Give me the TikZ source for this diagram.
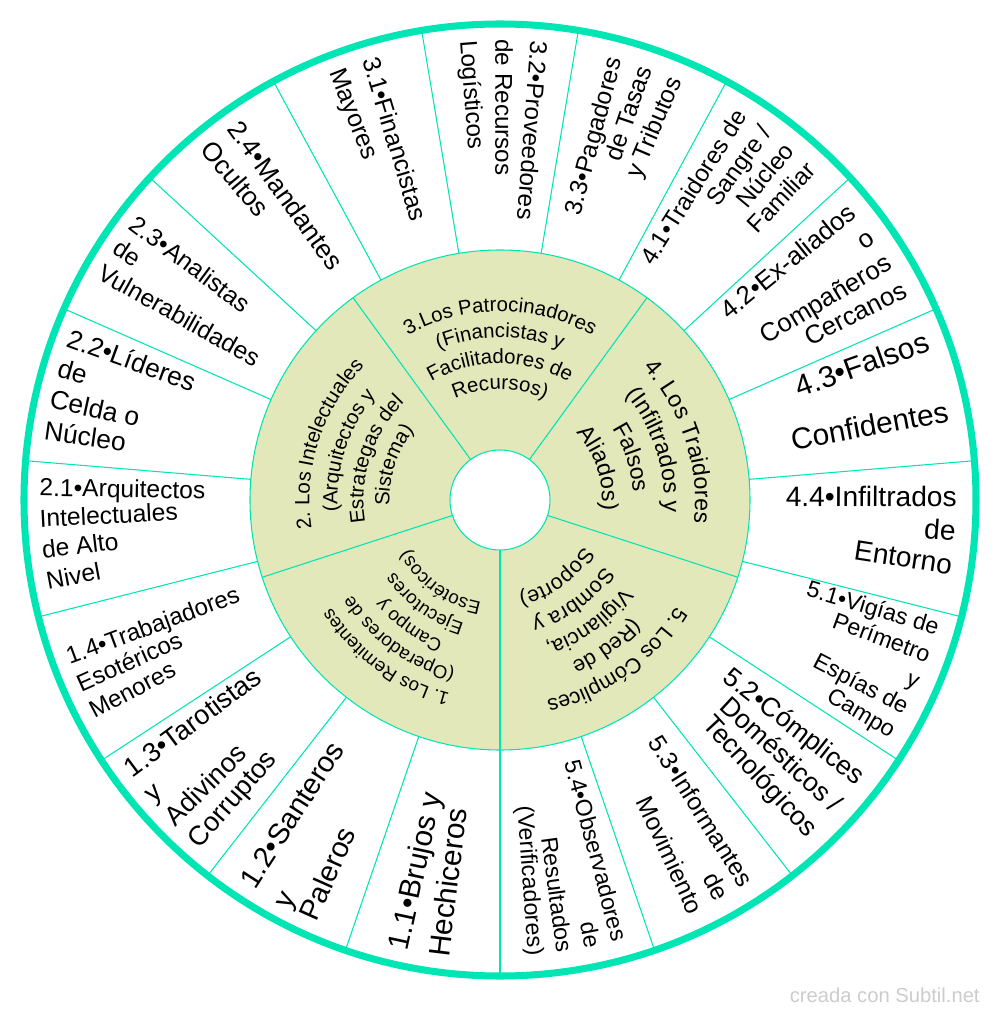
\documentclass[tikz,border=0pt]{standalone}
\usepackage{fontspec}
\setmainfont{Liberation Sans}
\usetikzlibrary{decorations.text}
\definecolor{mint}{RGB}{0,229,180}
\definecolor{pale}{RGB}{226,232,186}
\newcommand{\fsz}[1]{\fontsize{#1}{#1}\selectfont}

\begin{document}
\begin{tikzpicture}[rim/.style={draw=mint, line width=0.6pt},
  lft/.style={anchor=mid west, inner sep=0pt, rotate=#1-180, at={(#1:9.22)}},
  rgt/.style={anchor=mid east, inner sep=0pt, rotate=#1, at={(#1:9.14)}},
  arctext/.style={decorate, decoration={text along path, text align=center, text={#1}}}]
	\useasboundingbox (-10,-10.32) rectangle (10,10);

	% rings
	\fill[pale] (0,0) circle (5);
	\fill[white] (0,0) circle (1);
	\foreach \a in {270,342,54,126,198} \draw[rim] (\a:1) -- (\a:5);
	\foreach \k in {0,...,18} \draw[rim] ({270-\k*360/19}:5) -- ({270-\k*360/19}:9.52);
	\draw[rim] (0,0) circle (1);
	\draw[rim] (0,0) circle (5);
	\draw[mint, line width=4pt] (0,0) circle (9.52);

	% inner sectors
	\path[arctext={|\fsz{10.6}|1. Los Remitentes}] (279:4.00) arc[start angle=279, end angle=189, radius=4.00];
	\path[arctext={|\fsz{10.6}|(Operadores de}] (279:3.52) arc[start angle=279, end angle=189, radius=3.52];
	\path[arctext={|\fsz{10.6}|Campo y}] (279:3.04) arc[start angle=279, end angle=189, radius=3.04];
	\path[arctext={|\fsz{10.6}|Ejecutores}] (279:2.56) arc[start angle=279, end angle=189, radius=2.56];
	\path[arctext={|\fsz{10.6}|Esotéricos)}] (279:2.08) arc[start angle=279, end angle=189, radius=2.08];

	\path[arctext={|\fsz{11.7}|2. Los Intelectuales}] (207:3.81) arc[start angle=207, end angle=117, radius=3.81];
	\path[arctext={|\fsz{11.7}|(Arquitectos y}] (207:3.25) arc[start angle=207, end angle=117, radius=3.25];
	\path[arctext={|\fsz{11.7}|Estrategas del}] (207:2.73) arc[start angle=207, end angle=117, radius=2.73];
	\path[arctext={|\fsz{11.7}|Sistema)}] (207:2.21) arc[start angle=207, end angle=117, radius=2.21];

	\path[arctext={|\fsz{11.6}|3.Los Patrocinadores}] (135:3.77) arc[start angle=135, end angle=45, radius=3.77];
	\path[arctext={|\fsz{11.6}|(Financistas y}] (135:3.25) arc[start angle=135, end angle=45, radius=3.25];
	\path[arctext={|\fsz{11.6}|Facilitadores de}] (135:2.73) arc[start angle=135, end angle=45, radius=2.73];
	\path[arctext={|\fsz{11.6}|Recursos)}] (135:2.21) arc[start angle=135, end angle=45, radius=2.21];

	\path[arctext={|\fsz{13.2}|4. Los Traidores}] (63:3.90) arc[start angle=63, end angle=-27, radius=3.90];
	\path[arctext={|\fsz{13.2}|(Infiltrados y}] (63:3.28) arc[start angle=63, end angle=-27, radius=3.28];
	\path[arctext={|\fsz{13.2}|Falsos}] (63:2.66) arc[start angle=63, end angle=-27, radius=2.66];
	\path[arctext={|\fsz{13.2}|Aliados)}] (63:2.04) arc[start angle=63, end angle=-27, radius=2.04];

	\path[arctext={|\fsz{12.2}|5. Los Cómplices}] (351:4.11) arc[start angle=351, end angle=261, radius=4.11];
	\path[arctext={|\fsz{12.2}|(Red de}] (351:3.55) arc[start angle=351, end angle=261, radius=3.55];
	\path[arctext={|\fsz{12.2}|Vigilancia,}] (351:3.01) arc[start angle=351, end angle=261, radius=3.01];
	\path[arctext={|\fsz{12.2}|Sombra y}] (351:2.47) arc[start angle=351, end angle=261, radius=2.47];
	\path[arctext={|\fsz{12.2}|Soporte)}] (351:1.91) arc[start angle=351, end angle=261, radius=1.91];

	% outer labels, group 1
	\node[lft=257.9, font=\fsz{17}] (b11a) {1.1•Brujos y};
	\node[lft=263.1, font=\fsz{17}] (b11b) {Hechiceros};
	\node[lft=237.3, font=\fsz{16.5}] (b12a) {1.2•Santeros};
	\node[lft=242.3, font=\fsz{16.5}] (b12b) {y};
	\node[lft=246.0, font=\fsz{16.5}] (b12c) {Paleros};
	\node[lft=216.6, font=\fsz{15.4}] (b13a) {1.3•Tarotistas};
	\node[lft=220.6, font=\fsz{15.4}] (b13b) {y};
	\node[lft=224.7, font=\fsz{15.4}] (b13c) {Adivinos};
	\node[lft=228.7, font=\fsz{15.4}] (b13d) {Corruptos};
	\node[lft=200.4, font=\fsz{13.7}] (b14a) {1.4•Trabajadores};
	\node[lft=204.1, font=\fsz{13.7}] (b14b) {Esotéricos};
	\node[lft=207.8, font=\fsz{13.7}] (b14c) {Menores};

	% group 2
	\node[lft=178.9, font=\fsz{14}] (b21a) {2.1•Arquitectos};
	\node[lft=182.8, font=\fsz{14}] (b21b) {Intelectuales};
	\node[lft=186.7, font=\fsz{14}] (b21c) {de Alto};
	\node[lft=190.6, font=\fsz{14}] (b21d) {Nivel};
	\node[lft=159.9, font=\fsz{15}] (b22a) {2.2•Líderes};
	\node[lft=163.9, font=\fsz{15}] (b22b) {de};
	\node[lft=167.9, font=\fsz{15}] (b22c) {Celda o};
	\node[lft=171.9, font=\fsz{15}] (b22d) {Núcleo};
	\node[lft=143.3, font=\fsz{14}] (b23a) {2.3•Analistas};
	\node[lft=147.0, font=\fsz{14}] (b23b) {de};
	\node[lft=150.7, font=\fsz{14}] (b23c) {Vulnerabilidades};
	\node[lft=125.8, font=\fsz{15}] (b24a) {2.4•Mandantes};
	\node[lft=130.1, font=\fsz{15}] (b24b) {Ocultos};

	% group 3
	\node[lft=106.8, font=\fsz{14.2}] (b31a) {3.1•Financistas};
	\node[lft=111.2, font=\fsz{14.2}] (b31b) {Mayores};
	\node[lft=85.6, font=\fsz{13.8}] (b32a) {3.2•Proveedores};
	\node[lft=90.0, font=\fsz{13.8}] (b32b) {de Recursos};
	\node[lft=94.4, font=\fsz{13.8}] (b32c) {Logísticos};
	\node[rgt=75.1, font=\fsz{14}] (b33a) {3.3•Pagadores};
	\node[rgt=71.1, font=\fsz{14}] (b33b) {de Tasas};
	\node[rgt=67.1, font=\fsz{14}] (b33c) {y Tributos};

	% group 4
	\node[rgt=57.7, font=\fsz{13.8}] (b41a) {4.1•Traidores de};
	\node[rgt=54.0, font=\fsz{13.8}] (b41b) {Sangre /};
	\node[rgt=50.3, font=\fsz{13.8}] (b41c) {Núcleo};
	\node[rgt=46.6, font=\fsz{13.8}] (b41d) {Familiar};
	\node[rgt=39.0, font=\fsz{14.7}] (b42a) {4.2•Ex-aliados};
	\node[rgt=35.0, font=\fsz{14.7}] (b42b) {o};
	\node[rgt=31.1, font=\fsz{14.7}] (b42c) {Compañeros};
	\node[rgt=27.1, font=\fsz{14.7}] (b42d) {Cercanos};
	\node[rgt=19.7, font=\fsz{17}] (b43a) {4.3•Falsos};
	\node[rgt=10.5, font=\fsz{17}] (b43b) {Confidentes};
	\node[rgt=-0.3, font=\fsz{16}] (b44a) {4.4•Infiltrados};
	\node[rgt=-4.5, font=\fsz{16}] (b44b) {de};
	\node[rgt=-8.8, font=\fsz{16}] (b44c) {Entorno};

	% group 5
	\node[rgt=-16.6, font=\fsz{13.2}] (b51a) {5.1•Vigías de};
	\node[rgt=-20.3, font=\fsz{13.2}] (b51b) {Perímetro};
	\node[rgt=-23.9, font=\fsz{13.2}] (b51c) {y};
	\node[rgt=-27.4, font=\fsz{13.2}] (b51d) {Espías de};
	\node[rgt=-30.9, font=\fsz{13.2}] (b51e) {Campo};
	\node[rgt=-38.2, font=\fsz{15.2}] (b52a) {5.2•Cómplices};
	\node[rgt=-42.75, font=\fsz{15.2}] (b52b) {Domésticos /};
	\node[rgt=-47.3, font=\fsz{15.2}] (b52c) {Tecnológicos};
	\node[rgt=-57.7, font=\fsz{14}] (b53a) {5.3•Informantes};
	\node[rgt=-61.3, font=\fsz{14}] (b53b) {de};
	\node[rgt=-65.0, font=\fsz{14}] (b53c) {Movimiento};
	\node[rgt=-75.2, font=\fsz{13.2}] (b54a) {5.4•Observadores};
	\node[rgt=-78.7, font=\fsz{13.2}] (b54b) {de};
	\node[rgt=-82.3, font=\fsz{13.2}] (b54c) {Resultados};
	\node[rgt=-85.9, font=\fsz{13.2}] (b54d) {(Verificadores)};

	% mark
	\node[anchor=east, inner sep=0pt, text=gray!40, font=\fsz{11.5}] (mark) at (9.6,-9.9) {creada con Subtil.net};
\end{tikzpicture}
\end{document}
